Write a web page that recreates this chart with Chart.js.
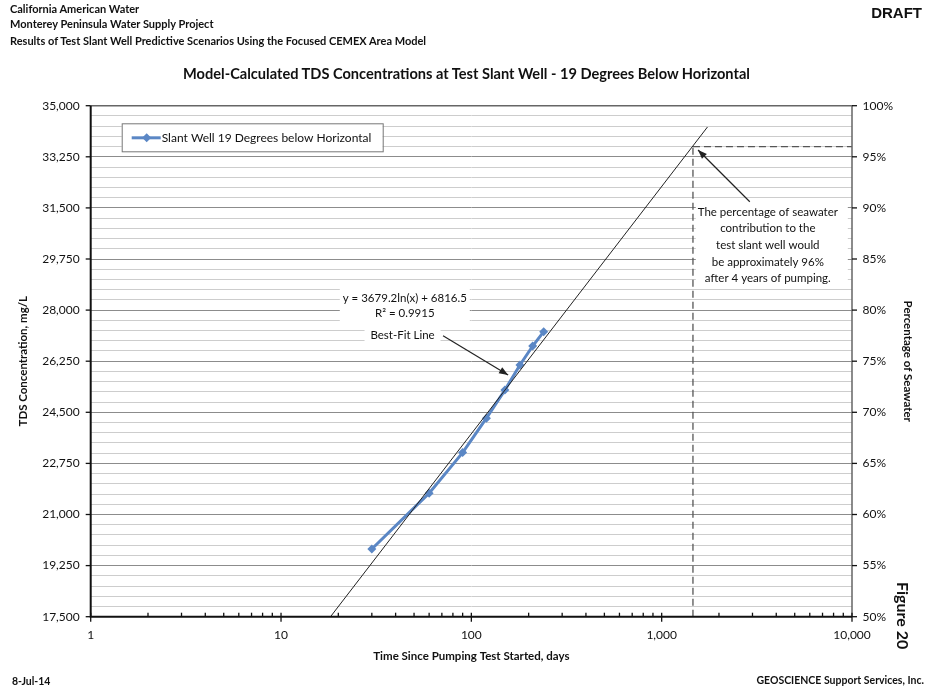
<!DOCTYPE html>
<html><head><meta charset="utf-8">
<script src="https://cdn.jsdelivr.net/npm/chart.js@4.4.1/dist/chart.umd.min.js"></script>
<style>
html,body{margin:0;padding:0;background:#fff;}
#wrap{position:relative;width:927px;height:690px;overflow:hidden;font-family:Lato,"Open Sans",sans-serif;color:#111;}
canvas{position:absolute;left:0;top:0;}
.t{position:absolute;white-space:nowrap;line-height:1;}
.b{font-weight:700;}
</style></head><body>
<div id="wrap">
<canvas id="c" width="927" height="690"></canvas>
<div class="t b" style="left:10px;top:3px;font-size:11px;">California American Water</div>
<div class="t b" style="left:10px;top:18px;font-size:11px;">Monterey Peninsula Water Supply Project</div>
<div class="t b" style="left:10px;top:35px;font-size:11px;">Results of Test Slant Well Predictive Scenarios Using the Focused CEMEX Area Model</div>
<div class="t b" style="right:5px;top:5px;font-size:15px;font-family:'Liberation Sans',Arial,sans-serif;">DRAFT</div>
<div class="t b" style="left:0;width:927px;text-align:center;top:67px;font-size:14.6px;padding-left:6px;box-sizing:border-box;">Model-Calculated TDS Concentrations at Test Slant Well - 19 Degrees Below Horizontal</div>
<div class="t b" style="left:12px;top:676px;font-size:10.5px;">8-Jul-14</div>
<div class="t b" style="right:3px;top:675px;font-size:10.5px;">GEOSCIENCE Support Services, Inc.</div>
<div class="t b" style="font-size:16px;transform:rotate(90deg);transform-origin:left top;left:911px;top:582px;">Figure 20</div>
</div>
<script>
// ---- data ----
const seriesLabel = 'Slant Well 19 Degrees below Horizontal';
const days = [30, 60, 90, 120, 150, 180, 210, 240];
const tds  = [19820, 21730, 23120, 24300, 25260, 26120, 26770, 27260];
const trendDays = [18.2, 1740];
const trendTDS  = [17500, 34270];
const xTickValues = [1, 10, 100, 1000, 10000];
const xTickLabels = ['1', '10', '100', '1,000', '10,000'];
const yMin = 17500, yMax = 35000, yMajorStep = 1750, yMinorStep = 350;
const pctMin = 50, pctMax = 100, pctStep = 5;
const fourYearDays = 1460;
const seawaterPct = 96;
const eqText = ['y = 3679.2ln(x) + 6816.5', 'R² = 0.9915'];
const bestFitText = 'Best-Fit Line';
const noteText = ['The percentage of seawater', 'contribution to the', 'test slant well would', 'be approximately 96%', 'after 4 years of pumping.'];
// annotation anchors in data units (days, mg/L)
const eqAnchor = [44.7, 28420];
const bestFitAnchor = [43.5, 27130];
const bestFitArrow = [[71, 27123], [156, 25777]];
const noteAnchor = [3611, 31360];
const noteArrow = [[2904, 31712], [1553, 33483]];

const FONT = 'Lato, "Open Sans", sans-serif';
const seawaterTDS = yMax * seawaterPct / 100;

const extras = {
  id: 'extras',
  beforeDatasetsDraw(chart) {
    const {ctx, chartArea: a, scales: {x, y}} = chart;
    ctx.save();
    // legend box
    const lx = a.left + 31, ly = a.top + 17.6, lw = 261, lh = 28;
    ctx.fillStyle = '#fff'; ctx.fillRect(lx, ly, lw, lh);
    ctx.strokeStyle = '#777'; ctx.lineWidth = 1; ctx.strokeRect(lx + .5, ly + .5, lw, lh);
    ctx.strokeStyle = '#5B87C5'; ctx.lineWidth = 3;
    ctx.beginPath(); ctx.moveTo(lx + 10, ly + 14.5); ctx.lineTo(lx + 39, ly + 14.5); ctx.stroke();
    ctx.fillStyle = '#5B87C5';
    ctx.beginPath(); const mx = lx + 25, my = ly + 14.5;
    ctx.moveTo(mx, my - 4.5); ctx.lineTo(mx + 4.5, my); ctx.lineTo(mx, my + 4.5); ctx.lineTo(mx - 4.5, my); ctx.closePath(); ctx.fill();
    ctx.fillStyle = '#111'; ctx.font = '12px ' + FONT; ctx.textBaseline = 'middle'; ctx.textAlign = 'left';
    ctx.fillText(seriesLabel, lx + 40, ly + 15);

    // equation + best-fit label
    ctx.font = '11.5px ' + FONT; ctx.textAlign = 'center';
    const ex = x.getPixelForValue(eqAnchor[0]), ey = y.getPixelForValue(eqAnchor[1]);
    ctx.fillStyle = '#fff'; ctx.fillRect(ex - 65, ey - 10, 130, 34);
    ctx.fillStyle = '#111';
    ctx.fillText(eqText[0], ex, ey); ctx.fillText(eqText[1], ex, ey + 15.5);
    const bx = x.getPixelForValue(bestFitAnchor[0]), by = y.getPixelForValue(bestFitAnchor[1]);
    ctx.fillStyle = '#fff'; ctx.fillRect(bx - 38, by - 9, 76, 18);
    ctx.fillStyle = '#111'; ctx.fillText(bestFitText, bx, by);

    // note
    const nx = x.getPixelForValue(noteAnchor[0]), ny = y.getPixelForValue(noteAnchor[1]);
    ctx.fillStyle = '#fff'; ctx.fillRect(nx - 72, ny - 10, 152, 86);
    ctx.fillStyle = '#111';
    noteText.forEach((t, i) => ctx.fillText(t, nx, ny + i * 16.7));
    ctx.restore();
  },
  afterDatasetsDraw(chart) {
    const {ctx, chartArea: a, scales: {x, y}} = chart;
    ctx.save();
    const arrow = (p0, p1) => {
      const x0 = x.getPixelForValue(p0[0]), y0 = y.getPixelForValue(p0[1]);
      const x1 = x.getPixelForValue(p1[0]), y1 = y.getPixelForValue(p1[1]);
      ctx.strokeStyle = '#222'; ctx.fillStyle = '#222'; ctx.lineWidth = 1.2;
      ctx.beginPath(); ctx.moveTo(x0, y0); ctx.lineTo(x1, y1); ctx.stroke();
      const ang = Math.atan2(y1 - y0, x1 - x0), L = 9, W = 3.5;
      ctx.beginPath(); ctx.moveTo(x1, y1);
      ctx.lineTo(x1 - L * Math.cos(ang) + W * Math.sin(ang), y1 - L * Math.sin(ang) - W * Math.cos(ang));
      ctx.lineTo(x1 - L * Math.cos(ang) - W * Math.sin(ang), y1 - L * Math.sin(ang) + W * Math.cos(ang));
      ctx.closePath(); ctx.fill();
    };
    arrow(bestFitArrow[0], bestFitArrow[1]);
    arrow(noteArrow[0], noteArrow[1]);

    // frame
    ctx.strokeStyle = '#666'; ctx.lineWidth = 1.5;
    ctx.beginPath(); ctx.moveTo(a.left, a.top); ctx.lineTo(a.right, a.top); ctx.lineTo(a.right, a.bottom); ctx.stroke();
    ctx.strokeStyle = '#111'; ctx.lineWidth = 2;
    ctx.beginPath(); ctx.moveTo(a.left, a.top); ctx.lineTo(a.left, a.bottom); ctx.lineTo(a.right, a.bottom); ctx.stroke();
    // x ticks
    ctx.lineWidth = 1.3;
    for (let d = 0; d < 4; d++) {
      for (let k = 2; k <= 9; k++) {
        const px = x.getPixelForValue(k * Math.pow(10, d));
        ctx.beginPath(); ctx.moveTo(px, a.bottom); ctx.lineTo(px, a.bottom - 4); ctx.stroke();
      }
    }
    xTickValues.forEach(v => {
      const px = x.getPixelForValue(v);
      ctx.beginPath(); ctx.moveTo(px, a.bottom - 4); ctx.lineTo(px, a.bottom + 5); ctx.stroke();
    });
    // y ticks
    for (let v = yMin; v <= yMax; v += yMajorStep) {
      const py = y.getPixelForValue(v);
      ctx.beginPath(); ctx.moveTo(a.left - 5, py); ctx.lineTo(a.left, py); ctx.stroke();
      ctx.beginPath(); ctx.moveTo(a.right, py); ctx.lineTo(a.right + 5, py); ctx.stroke();
    }
    ctx.restore();
  }
};

const ctx = document.getElementById('c').getContext('2d');
new Chart(ctx, {
  type: 'scatter',
  data: {
    datasets: [
      { label: seriesLabel, data: days.map((d, i) => ({x: d, y: tds[i]})), showLine: true,
        borderColor: '#5B87C5', backgroundColor: '#5B87C5', borderWidth: 3,
        pointStyle: 'rectRot', pointRadius: 4.5, pointBorderWidth: 0, order: 1 },
      { label: 'trend', data: trendDays.map((d, i) => ({x: d, y: trendTDS[i]})), showLine: true,
        borderColor: '#222', borderWidth: 1, pointRadius: 0, order: 0 },
      { label: 'v', data: [{x: fourYearDays, y: yMin}, {x: fourYearDays, y: seawaterTDS}], showLine: true,
        borderColor: '#555', borderWidth: 1.3, borderDash: [7, 4], pointRadius: 0 },
      { label: 'h', data: [{x: fourYearDays, y: seawaterTDS}, {x: 10000, y: seawaterTDS}], showLine: true,
        borderColor: '#555', borderWidth: 1.3, borderDash: [7, 4], pointRadius: 0 }
    ]
  },
  options: {
    responsive: false, animation: false,
    layout: { padding: { top: 105.7, left: 0, right: 0, bottom: 0 } },
    plugins: { legend: { display: false }, tooltip: { enabled: false } },
    scales: {
      x: {
        type: 'logarithmic', position: 'bottom', min: 1, max: 10000,
        afterBuildTicks: s => { s.ticks = xTickValues.map(v => ({value: v})); },
        afterFit: s => { s.height = 73.3; },
        grid: { display: false, drawTicks: false }, border: { display: false },
        ticks: { autoSkip: false, maxRotation: 0, padding: 11, color: '#111', font: { family: FONT, size: 12 },
                 callback: (v, i) => xTickLabels[i] },
        title: { display: true, text: 'Time Since Pumping Test Started, days', color: '#111',
                 font: { family: FONT, size: 11.5, weight: 'bold' }, padding: { top: 0, bottom: 27 } }
      },
      y: {
        type: 'linear', position: 'left', min: yMin, max: yMax,
        afterBuildTicks: s => { const t = []; for (let v = yMin; v <= yMax; v += yMinorStep) t.push({value: v}); s.ticks = t; },
        afterFit: s => { s.width = 90.7; },
        grid: { drawTicks: false, lineWidth: 1,
                color: c => (c.tick && Math.round(c.tick.value - yMin) % yMajorStep === 0) ? '#8c8c8c' : '#cdcdcd' },
        border: { display: false },
        ticks: { autoSkip: false, padding: 11, color: '#111', font: { family: FONT, size: 12 },
                 callback: v => (Math.round(v - yMin) % yMajorStep === 0) ? v.toLocaleString('en-US') : '' },
        title: { display: true, text: 'TDS Concentration, mg/L', color: '#111',
                 font: { family: FONT, size: 11.5, weight: 'bold' }, padding: { top: 16, bottom: 0 } }
      },
      y2: {
        type: 'linear', position: 'right', min: pctMin, max: pctMax,
        afterBuildTicks: s => { const t = []; for (let v = pctMin; v <= pctMax; v += pctStep) t.push({value: v}); s.ticks = t; },
        afterFit: s => { s.width = 927 - 852; },
        grid: { display: false, drawTicks: false }, border: { display: false },
        ticks: { autoSkip: false, padding: 10.5, color: '#111', font: { family: FONT, size: 12 }, callback: v => v + '%' },
        title: { display: true, text: 'Percentage of Seawater', color: '#111',
                 font: { family: FONT, size: 11.5, weight: 'bold' }, padding: { top: 12, bottom: 0 } }
      }
    }
  },
  plugins: [extras]
});
</script>
</body></html>
